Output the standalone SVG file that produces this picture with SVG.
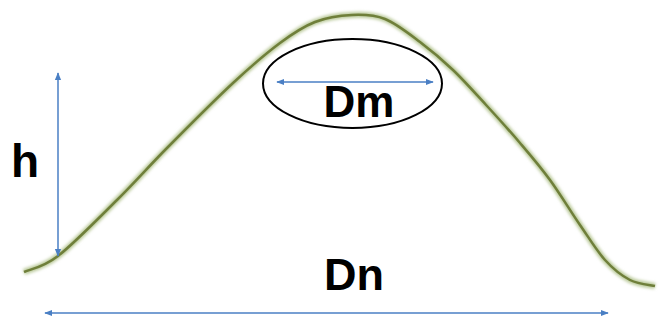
<svg xmlns="http://www.w3.org/2000/svg" width="664" height="323" viewBox="0 0 664 323">
<defs>
<style>
.arr{stroke:#4a7fc4;stroke-width:1.5;fill:none;marker-start:url(#ah);marker-end:url(#ah)}
.lbl{font-family:"Liberation Sans",Arial,sans-serif;font-weight:bold;fill:#000}
</style>
<marker id="ah" viewBox="0 0 10 10" refX="9" refY="5" markerWidth="8" markerHeight="8" markerUnits="userSpaceOnUse" orient="auto-start-reverse">
<path d="M0,1 L10,5 L0,9 Z" fill="#4a7fc4"/>
</marker>
<filter id="blur" x="-5%" y="-5%" width="110%" height="110%"><feGaussianBlur stdDeviation="1.6"/></filter>
<path id="bell" d="M24,272 C29.7,269.3 42.5,268 58,256 C73.5,244 98.8,218 117,200 C135.2,182 147.7,167.5 167,148 C186.3,128.5 214.2,100.5 233,83 C251.8,65.5 266.3,53.2 280,43 C293.7,32.8 303,26.7 315,22 C327,17.3 340.3,15.5 352,15 C363.7,14.5 373.7,14.5 385,19 C396.3,23.5 408.7,33.5 420,42 C431.3,50.5 441.8,59.3 453,70 C464.2,80.7 475.8,93.8 487,106 C498.2,118.2 509.5,130.7 520,143 C530.5,155.3 540,166.3 550,180 C560,193.7 570.8,211.7 580,225 C589.2,238.3 596.7,250.8 605,260 C613.3,269.2 621.7,275.7 630,280 C638.3,284.3 650.8,285 655,286" fill="none"/>
</defs>
<rect width="664" height="323" fill="#fff"/>
<g id="curve">
<use href="#bell" stroke="#bccb9c" stroke-width="6" filter="url(#blur)"/>
<use href="#bell" stroke="#6f7f3a" stroke-width="2.5"/>
</g>
<g id="dm">
<ellipse cx="352.5" cy="83.5" rx="89.5" ry="44.5" fill="none" stroke="#000" stroke-width="2"/>
<text class="lbl" x="359" y="117" font-size="44" text-anchor="middle">Dm</text>
</g>
<g id="h">
<text class="lbl" x="25" y="177" font-size="46" text-anchor="middle">h</text>
</g>
<g id="dn">
<text class="lbl" x="354" y="290" font-size="45" text-anchor="middle">Dn</text>
</g>
<g id="connectors">
<line class="arr" x1="277" y1="82" x2="433" y2="82"/>
<line class="arr" x1="58" y1="73" x2="58" y2="256"/>
<line class="arr" x1="45" y1="313" x2="608" y2="313"/>
</g>
</svg>
